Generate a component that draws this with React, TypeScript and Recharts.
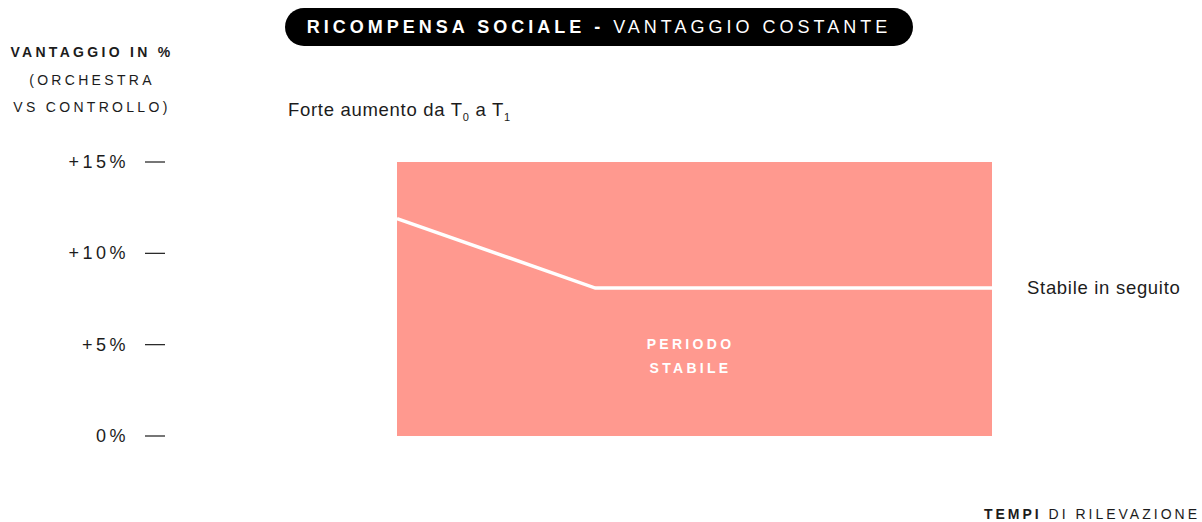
import { LineChart, Line, XAxis, YAxis, ReferenceArea, LabelList } from 'recharts';

const TIMES = ['T0', 'T1', 'T2', 'T3'];
const ADVANTAGE = [11.9, 8.1, 8.1, 8.1];
const Y_TICKS = [0, 5, 10, 15];
const TICK_LABELS = ['0%', '+5%', '+10%', '+15%'];

const FONT = '"Liberation Sans", Helvetica, Arial, sans-serif';
const INK = '#1c1c1c';
const SALMON = '#FF998F';

const data = TIMES.map((t, i) => ({ t, value: ADVANTAGE[i] }));

// eslint-disable-next-line @typescript-eslint/no-explicit-any
function YTick(props: any) {
  const { y, payload } = props;
  const idx = Y_TICKS.indexOf(payload.value);
  return (
    <g>
      <text
        x={129}
        y={y}
        dy={6}
        textAnchor="end"
        fontFamily={FONT}
        fontSize={18}
        letterSpacing={3.5}
        fill={INK}
      >
        {TICK_LABELS[idx]}
      </text>
      <line x1={145} x2={165} y1={y} y2={y} stroke={INK} strokeWidth={1.2} />
    </g>
  );
}

// eslint-disable-next-line @typescript-eslint/no-explicit-any
function AreaLabel(props: any) {
  const { viewBox } = props;
  const cx = viewBox.x + viewBox.width / 2 - 4;
  const common = {
    textAnchor: 'middle' as const,
    fontFamily: FONT,
    fontSize: 14,
    fontWeight: 700,
    letterSpacing: 3.3,
    fill: '#ffffff',
  };
  return (
    <g>
      <text x={cx} y={viewBox.y + viewBox.height * 0.663 + 5} {...common}>
        PERIODO
      </text>
      <text x={cx} y={viewBox.y + viewBox.height * 0.751 + 5} {...common}>
        STABILE
      </text>
    </g>
  );
}

// eslint-disable-next-line @typescript-eslint/no-explicit-any
function EndLabel(props: any) {
  const { x, y, index } = props;
  if (index !== data.length - 1) return null;
  return (
    <text
      x={x + 35}
      y={y}
      dy={6}
      fontFamily={FONT}
      fontSize={18.5}
      letterSpacing={0.7}
      fill={INK}
    >
      Stabile in seguito
    </text>
  );
}

export default function App() {
  return (
    <div
      style={{
        position: 'absolute',
        left: 0,
        top: 0,
        width: 1202,
        height: 522,
        background: '#fff',
        fontFamily: FONT,
        color: INK,
      }}
    >
      <div
        style={{
          position: 'absolute',
          left: 285,
          top: 8,
          width: 628,
          height: 38,
          borderRadius: 19,
          background: '#000',
          color: '#fff',
          display: 'flex',
          alignItems: 'center',
          justifyContent: 'center',
          fontSize: 18,
          letterSpacing: 4,
          whiteSpace: 'nowrap',
        }}
      >
        <span style={{ fontWeight: 700 }}>RICOMPENSA SOCIALE -&nbsp;</span>
        <span>VANTAGGIO COSTANTE</span>
      </div>

      <div
        style={{
          position: 'absolute',
          left: 0,
          top: 39,
          width: 184,
          textAlign: 'center',
          fontSize: 14,
          letterSpacing: 3.3,
          lineHeight: '27.5px',
        }}
      >
        <div style={{ fontWeight: 700 }}>VANTAGGIO IN %</div>
        <div>(ORCHESTRA</div>
        <div>VS CONTROLLO)</div>
      </div>

      <div
        style={{
          position: 'absolute',
          left: 288,
          top: 99,
          fontSize: 18.5,
          letterSpacing: 0.7,
          whiteSpace: 'nowrap',
        }}
      >
        Forte aumento da T<sub style={{ fontSize: 11 }}>0</sub> a T<sub style={{ fontSize: 11 }}>1</sub>
      </div>

      <div
        style={{
          position: 'absolute',
          right: 2,
          top: 506,
          fontSize: 14,
          letterSpacing: 3,
          whiteSpace: 'nowrap',
        }}
      >
        <span style={{ fontWeight: 700 }}>TEMPI</span> DI RILEVAZIONE
      </div>

      <LineChart
        width={1202}
        height={522}
        data={data}
        margin={{ top: 162, right: 210, bottom: 86, left: 0 }}
        style={{ position: 'absolute', left: 0, top: 0 }}
      >
        <XAxis dataKey="t" hide />
        <YAxis
          width={397}
          domain={[0, 15]}
          ticks={Y_TICKS}
          axisLine={false}
          tickLine={false}
          tick={<YTick />}
          interval={0}
        />
        <ReferenceArea
          x1="T0"
          x2="T3"
          y1={0}
          y2={15}
          fill={SALMON}
          fillOpacity={1}
          stroke="none"
          label={<AreaLabel />}
          ifOverflow="visible"
        />
        <Line
          type="linear"
          dataKey="value"
          stroke="#ffffff"
          strokeWidth={3.5}
          dot={false}
          isAnimationActive={false}
        >
          <LabelList dataKey="value" content={<EndLabel />} />
        </Line>
      </LineChart>
    </div>
  );
}
